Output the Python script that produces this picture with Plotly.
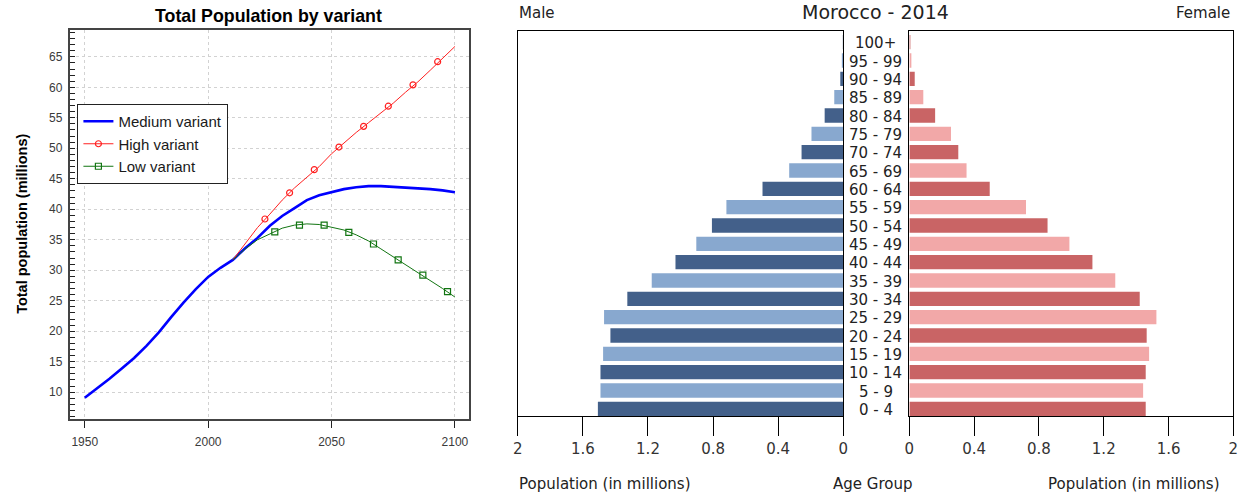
import plotly.graph_objects as go

# ---------------- Left chart data ----------------
years_5 = [1950, 1955, 1960, 1965, 1970, 1975, 1980, 1985, 1990, 1995, 2000, 2005,
           2010, 2015, 2020, 2025, 2030, 2035, 2040, 2045, 2050, 2055, 2060, 2065,
           2070, 2075, 2080, 2085, 2090, 2095, 2100]
medium = [9.1, 10.6, 12.2, 13.9, 15.6, 17.6, 19.8, 22.3, 24.7, 26.9, 28.9, 30.4,
          31.7, 33.6, 35.3, 37.3, 38.9, 40.2, 41.5, 42.3, 42.8, 43.3, 43.6, 43.8,
          43.8, 43.7, 43.6, 43.5, 43.3, 43.1, 42.8]

proj_years = [2010, 2015, 2020, 2025, 2030, 2035, 2040, 2045, 2050, 2055, 2060, 2065,
              2070, 2075, 2080, 2085, 2090, 2095, 2100]
high = [31.7, 34.3, 37.0, 39.2, 41.5, 43.5, 45.2, 47.0, 49.1, 50.9, 52.6, 54.2,
        55.8, 57.4, 59.2, 60.9, 62.8, 64.8, 66.7]
low = [31.7, 33.5, 35.0, 36.0, 36.9, 37.4, 37.6, 37.5, 37.1, 36.6, 35.8, 34.8,
       33.5, 32.2, 30.9, 29.7, 28.4, 27.0, 25.6]

high_marker_years = [2023, 2033, 2043, 2053, 2063, 2073, 2083, 2093]
high_markers = [38.4, 42.7, 46.5, 50.2, 53.6, 56.9, 60.4, 64.2]
low_marker_years = [2027, 2037, 2047, 2057, 2067, 2077, 2087, 2097]
low_markers = [36.3, 37.4, 37.4, 36.2, 34.3, 31.7, 29.2, 26.5]

x_ticks = [1950, 2000, 2050, 2100]
y_ticks = [10, 15, 20, 25, 30, 35, 40, 45, 50, 55, 60, 65]

# ---------------- Right chart data ----------------
age_groups = ["0 - 4", "5 - 9", "10 - 14", "15 - 19", "20 - 24", "25 - 29", "30 - 34",
              "35 - 39", "40 - 44", "45 - 49", "50 - 54", "55 - 59", "60 - 64",
              "65 - 69", "70 - 74", "75 - 79", "80 - 84", "85 - 89", "90 - 94",
              "95 - 99", "100+"]
male = [1.508, 1.492, 1.492, 1.476, 1.431, 1.470, 1.327, 1.177, 1.031, 0.903,
        0.807, 0.718, 0.496, 0.332, 0.256, 0.195, 0.114, 0.055, 0.018, 0.004, 0.002]
female = [1.459, 1.443, 1.459, 1.480, 1.465, 1.525, 1.422, 1.271, 1.130, 0.988,
          0.853, 0.720, 0.496, 0.353, 0.302, 0.257, 0.159, 0.086, 0.033, 0.008, 0.003]
pop_ticks = [0, 0.4, 0.8, 1.2, 1.6, 2]
pop_ticktext = ["0", "0.4", "0.8", "1.2", "1.6", "2"]

W, H = 1244, 494
def px(x):
    return x / W
def py(y):
    return 1 - y / H

fig = go.Figure()

LEFT_FONT = "Liberation Sans, Arial, sans-serif"
RIGHT_FONT = "DejaVu Sans, sans-serif"

RED = "#ff2020"
GREEN = "#127512"
BLUE = "#0000ff"

# Left chart traces
fig.add_trace(go.Scatter(x=years_5, y=medium, mode="lines", line=dict(color=BLUE, width=2.6),
                         showlegend=False, hoverinfo="skip"))
fig.add_trace(go.Scatter(x=proj_years, y=high, mode="lines", line=dict(color=RED, width=1),
                         showlegend=False))
fig.add_trace(go.Scatter(x=high_marker_years, y=high_markers, mode="markers",
                         marker=dict(symbol="circle-open", size=6, color=RED, line=dict(width=1.2)),
                         showlegend=False))
fig.add_trace(go.Scatter(x=proj_years, y=low, mode="lines", line=dict(color=GREEN, width=1),
                         showlegend=False))
fig.add_trace(go.Scatter(x=low_marker_years, y=low_markers, mode="markers",
                         marker=dict(symbol="square-open", size=6, color=GREEN, line=dict(width=1.2)),
                         showlegend=False))
# legend entries
fig.add_trace(go.Scatter(x=[None], y=[None], mode="lines", name="Medium variant",
                         line=dict(color=BLUE, width=2.6)))
fig.add_trace(go.Scatter(x=[None], y=[None], mode="lines+markers", name="High variant",
                         line=dict(color=RED, width=1),
                         marker=dict(symbol="circle-open", size=6, color=RED, line=dict(width=1.2))))
fig.add_trace(go.Scatter(x=[None], y=[None], mode="lines+markers", name="Low variant",
                         line=dict(color=GREEN, width=1),
                         marker=dict(symbol="square-open", size=6, color=GREEN, line=dict(width=1.2))))

# Right chart traces
idx = list(range(len(age_groups)))
male_colors = ["#43608a" if i % 2 == 0 else "#88a8cf" for i in idx]
female_colors = ["#c96465" if i % 2 == 0 else "#f2a8a8" for i in idx]
fig.add_trace(go.Bar(x=male, y=idx, orientation="h", xaxis="x2", yaxis="y2",
                     marker=dict(color=male_colors, line=dict(width=0)), width=0.78,
                     showlegend=False))
fig.add_trace(go.Bar(x=female, y=idx, orientation="h", xaxis="x3", yaxis="y3",
                     marker=dict(color=female_colors, line=dict(width=0)), width=0.78,
                     showlegend=False))

GRID = "#d2d2d2"
TICKCOL = "#3a3a3a"
FRAME = "#444444"

fig.update_layout(
    width=W, height=H,
    margin=dict(l=0, r=0, t=0, b=0),
    paper_bgcolor="white", plot_bgcolor="white",
    showlegend=True,
    legend=dict(x=px(73), y=py(104), xanchor="left", yanchor="top",
                bordercolor="#222222", borderwidth=1, bgcolor="white",
                font=dict(family=LEFT_FONT, size=15, color="#1a1a1a"),
                tracegroupgap=0, itemwidth=30),
    xaxis=dict(domain=[px(66), px(468)], range=[1944.2, 2105.8], tickvals=x_ticks,
               ticks="outside", ticklen=7, tickcolor="#222222", tickwidth=1.2,
               showline=True, mirror=True, linecolor=FRAME, linewidth=1.5,
               showgrid=True, gridcolor=GRID, griddash="dot", gridwidth=1,
               zeroline=False, ticklabelstandoff=4,
               tickfont=dict(family=LEFT_FONT, size=12, color=TICKCOL), anchor="y"),
    yaxis=dict(domain=[py(419), py(30)], range=[5.6, 69.4], tickvals=y_ticks,
               ticks="inside", ticklen=5, tickcolor="#222222", tickwidth=1,
               minor=dict(dtick=1, tick0=0, ticks="inside", ticklen=5, tickcolor="#222222",
                          showgrid=False),
               showline=True, mirror=True, linecolor=FRAME, linewidth=1.5,
               showgrid=True, gridcolor=GRID, griddash="dot", gridwidth=1,
               zeroline=False, ticklabelstandoff=4,
               tickfont=dict(family=LEFT_FONT, size=12, color=TICKCOL), anchor="x"),
    xaxis2=dict(domain=[px(517), px(845)], range=[2, 0], tickvals=pop_ticks, ticktext=pop_ticktext,
                ticks="outside", ticklen=19, tickcolor="black", tickwidth=1.2,
                showline=True, mirror=True, linecolor="black", linewidth=1.3,
                showgrid=False, zeroline=False, anchor="y2",
                tickfont=dict(family=RIGHT_FONT, size=15, color="#333333")),
    yaxis2=dict(domain=[py(416), py(31)], range=[-0.39, 20.61], showticklabels=False,
                showline=True, mirror=True, linecolor="black", linewidth=1.3,
                showgrid=False, zeroline=False, ticks="", anchor="x2"),
    xaxis3=dict(domain=[px(911.7), px(1238.3)], range=[0, 2], tickvals=pop_ticks, ticktext=pop_ticktext,
                ticks="outside", ticklen=19, tickcolor="black", tickwidth=1.2,
                showline=True, mirror=True, linecolor="black", linewidth=1.3,
                showgrid=False, zeroline=False, anchor="y3",
                tickfont=dict(family=RIGHT_FONT, size=15, color="#333333")),
    yaxis3=dict(domain=[py(416), py(31)], range=[-0.39, 20.61], showticklabels=False,
                showline=True, mirror=True, linecolor="black", linewidth=1.3,
                showgrid=False, zeroline=False, ticks="", anchor="x3"),
    bargap=0.2,
)

annotations = [
    dict(text="<b>Total Population by variant</b>", x=px(266), y=py(16), xref="paper", yref="paper",
         showarrow=False, xanchor="center", yanchor="middle",
         font=dict(family=LEFT_FONT, size=17.8, color="black")),
    dict(text="<b>Total population (millions)</b>", x=px(17), y=py(224), xref="paper", yref="paper",
         showarrow=False, textangle=-90, xanchor="center", yanchor="middle",
         font=dict(family=LEFT_FONT, size=14.5, color="black")),
    dict(text="Morocco - 2014", x=px(878), y=py(12), xref="paper", yref="paper",
         showarrow=False, xanchor="center", yanchor="middle",
         font=dict(family=RIGHT_FONT, size=19, color="#222222")),
    dict(text="Male", x=px(516), y=py(13), xref="paper", yref="paper",
         showarrow=False, xanchor="left", yanchor="middle",
         font=dict(family=RIGHT_FONT, size=15, color="#222222")),
    dict(text="Female", x=px(1237), y=py(13), xref="paper", yref="paper",
         showarrow=False, xanchor="right", yanchor="middle",
         font=dict(family=RIGHT_FONT, size=15, color="#222222")),
    dict(text="Population (in millions)", x=px(516), y=py(484), xref="paper", yref="paper",
         showarrow=False, xanchor="left", yanchor="middle",
         font=dict(family=RIGHT_FONT, size=15, color="#222222")),
    dict(text="Age Group", x=px(875), y=py(484), xref="paper", yref="paper",
         showarrow=False, xanchor="center", yanchor="middle",
         font=dict(family=RIGHT_FONT, size=15, color="#222222")),
    dict(text="Population (in millions)", x=px(1227), y=py(484), xref="paper", yref="paper",
         showarrow=False, xanchor="right", yanchor="middle",
         font=dict(family=RIGHT_FONT, size=15, color="#222222")),
]
for i, lab in zip(idx, age_groups):
    annotations.append(dict(text=lab, x=px(878), y=i, xref="paper", yref="y2",
                            showarrow=False, xanchor="center", yanchor="middle", yshift=-1,
                            font=dict(family=RIGHT_FONT, size=15, color="#222222")))
fig.update_layout(annotations=annotations)

fig.write_html("out.html", config={"displayModeBar": False},
               post_script=("document.documentElement.style.margin='0';"
                            "document.documentElement.style.overflow='hidden';"
                            "document.body.style.margin='0';document.body.style.padding='0';"
                            "document.body.style.overflow='hidden';"))
